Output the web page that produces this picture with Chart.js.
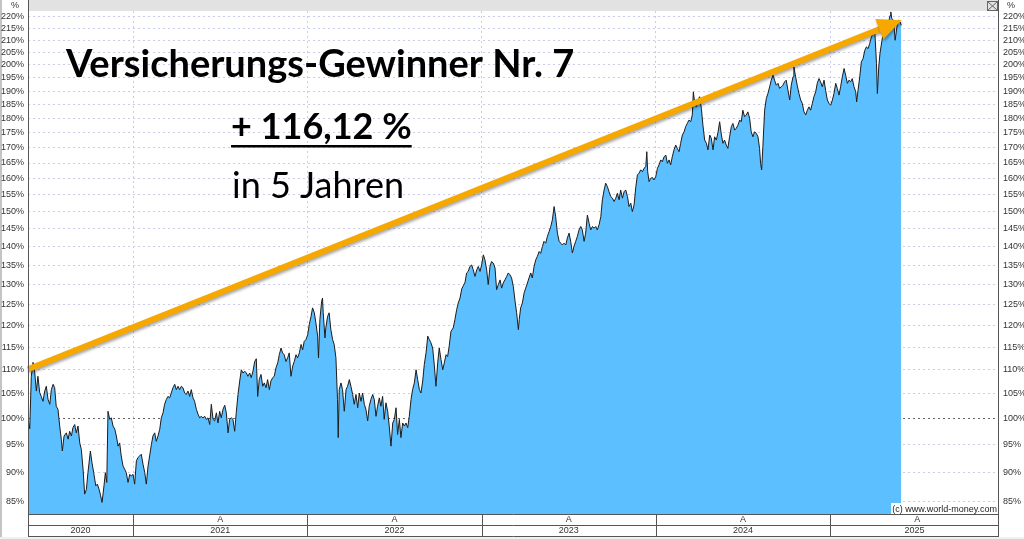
<!DOCTYPE html>
<html>
<head>
<meta charset="utf-8">
<title>Versicherungs-Gewinner Nr. 7</title>
<script src="https://cdn.jsdelivr.net/npm/chart.js@4.4.0/dist/chart.umd.min.js"></script>
<style>
  html, body { margin: 0; padding: 0; background: #fff; }
  #wrap { width: 1024px; height: 539px; }
</style>
</head>
<body>
<div id="wrap"><canvas id="perfChart" width="1024" height="539"></canvas></div>
<script>
// dates as decimal years, values in % of start value
const dates = [
  2020.397,2020.407,2020.416,2020.426,2020.435,2020.445,2020.454,2020.464,2020.473,2020.483,
  2020.493,2020.502,2020.512,2020.522,2020.531,2020.541,2020.550,2020.559,2020.569,2020.579,
  2020.588,2020.594,2020.604,2020.617,2020.627,2020.636,2020.646,2020.655,2020.665,2020.674,
  2020.684,2020.694,2020.703,2020.713,2020.722,2020.732,2020.741,2020.755,2020.764,2020.774,
  2020.786,2020.795,2020.805,2020.814,2020.822,2020.833,2020.841,2020.849,2020.856,2020.866,
  2020.875,2020.885,2020.895,2020.904,2020.914,2020.923,2020.932,2020.942,2020.952,2020.961,
  2020.971,2020.981,2020.990,2021.000,2021.009,2021.019,2021.028,2021.038,2021.047,2021.057,
  2021.067,2021.076,2021.086,2021.095,2021.105,2021.114,2021.124,2021.133,2021.143,2021.153,
  2021.162,2021.172,2021.181,2021.191,2021.200,2021.210,2021.219,2021.229,2021.239,2021.248,
  2021.258,2021.267,2021.277,2021.286,2021.296,2021.305,2021.315,2021.325,2021.334,2021.344,
  2021.353,2021.363,2021.373,2021.382,2021.391,2021.401,2021.411,2021.420,2021.430,2021.440,
  2021.449,2021.459,2021.468,2021.478,2021.487,2021.497,2021.506,2021.516,2021.526,2021.535,
  2021.545,2021.554,2021.564,2021.573,2021.583,2021.592,2021.602,2021.612,2021.621,2021.631,
  2021.640,2021.650,2021.659,2021.669,2021.678,2021.688,2021.698,2021.707,2021.715,2021.724,
  2021.734,2021.744,2021.753,2021.763,2021.772,2021.782,2021.791,2021.801,2021.810,2021.820,
  2021.830,2021.839,2021.849,2021.858,2021.867,2021.877,2021.887,2021.896,2021.906,2021.916,
  2021.925,2021.935,2021.944,2021.954,2021.964,2021.973,2021.982,2021.992,2022.002,2022.011,
  2022.021,2022.030,2022.040,2022.049,2022.059,2022.064,2022.072,2022.082,2022.087,2022.091,
  2022.101,2022.106,2022.116,2022.125,2022.135,2022.145,2022.154,2022.164,2022.173,2022.177,
  2022.183,2022.193,2022.202,2022.212,2022.222,2022.231,2022.241,2022.250,2022.260,2022.269,
  2022.279,2022.289,2022.298,2022.308,2022.317,2022.327,2022.336,2022.346,2022.355,2022.365,
  2022.375,2022.384,2022.394,2022.403,2022.413,2022.422,2022.432,2022.441,2022.451,2022.461,
  2022.470,2022.480,2022.490,2022.499,2022.509,2022.518,2022.528,2022.537,2022.547,2022.557,
  2022.566,2022.576,2022.585,2022.595,2022.604,2022.614,2022.624,2022.633,2022.643,2022.652,
  2022.662,2022.671,2022.681,2022.691,2022.700,2022.709,2022.719,2022.729,2022.738,2022.748,
  2022.757,2022.767,2022.777,2022.786,2022.796,2022.805,2022.814,2022.824,2022.837,2022.847,
  2022.857,2022.866,2022.876,2022.886,2022.895,2022.905,2022.914,2022.923,2022.933,2022.943,
  2022.952,2022.962,2022.972,2022.981,2022.991,2023.000,2023.010,2023.019,2023.029,2023.038,
  2023.048,2023.057,2023.067,2023.077,2023.086,2023.096,2023.106,2023.115,2023.124,2023.134,
  2023.144,2023.153,2023.163,2023.172,2023.182,2023.192,2023.201,2023.211,2023.216,2023.224,
  2023.234,2023.244,2023.253,2023.263,2023.272,2023.282,2023.291,2023.301,2023.311,2023.320,
  2023.330,2023.339,2023.349,2023.358,2023.368,2023.377,2023.387,2023.397,2023.406,2023.416,
  2023.425,2023.435,2023.445,2023.454,2023.463,2023.473,2023.483,2023.492,2023.502,2023.511,
  2023.521,2023.530,2023.540,2023.549,2023.559,2023.569,2023.578,2023.588,2023.597,2023.607,
  2023.617,2023.626,2023.636,2023.645,2023.655,2023.664,2023.674,2023.684,2023.693,2023.703,
  2023.712,2023.722,2023.731,2023.741,2023.751,2023.760,2023.770,2023.779,2023.789,2023.798,
  2023.808,2023.818,2023.827,2023.837,2023.846,2023.856,2023.865,2023.875,2023.885,2023.894,
  2023.903,2023.913,2023.923,2023.932,2023.942,2023.948,2023.953,2023.961,2023.970,2023.980,
  2023.989,2023.999,2024.009,2024.018,2024.028,2024.037,2024.047,2024.057,2024.066,2024.076,
  2024.085,2024.094,2024.104,2024.114,2024.123,2024.133,2024.142,2024.152,2024.162,2024.171,
  2024.180,2024.190,2024.200,2024.209,2024.215,2024.223,2024.232,2024.242,2024.251,2024.261,
  2024.270,2024.280,2024.290,2024.299,2024.309,2024.318,2024.328,2024.337,2024.347,2024.357,
  2024.366,2024.376,2024.385,2024.394,2024.404,2024.413,2024.423,2024.433,2024.442,2024.452,
  2024.461,2024.471,2024.481,2024.490,2024.499,2024.509,2024.519,2024.528,2024.538,2024.547,
  2024.557,2024.566,2024.576,2024.586,2024.595,2024.601,2024.607,2024.614,2024.624,2024.634,
  2024.643,2024.653,2024.662,2024.672,2024.681,2024.691,2024.701,2024.710,2024.720,2024.729,
  2024.739,2024.748,2024.758,2024.768,2024.777,2024.787,2024.792,2024.802,2024.811,2024.821,
  2024.831,2024.840,2024.850,2024.860,2024.869,2024.879,2024.888,2024.898,2024.907,2024.917,
  2024.926,2024.936,2024.945,2024.955,2024.965,2024.974,2024.984,2024.993,2025.003,2025.013,
  2025.022,2025.032,2025.041,2025.051,2025.060,2025.070,2025.080,2025.089,2025.099,2025.108,
  2025.118,2025.127,2025.137,2025.147,2025.152,2025.160,2025.170,2025.179,2025.189,2025.199,
  2025.208,2025.218,2025.227,2025.237,2025.246,2025.256,2025.266,2025.271,2025.279,2025.286,
  2025.296,2025.306,2025.315,2025.325,2025.334,2025.344,2025.348,2025.354,2025.364,2025.373,
  2025.383,2025.392,2025.402,2025.408
];
const values = [
  100.0,98.0,108.6,111.6,109.7,105.5,108.6,105.2,104.4,103.4,
  105.5,106.5,103.8,102.8,105.8,106.9,106.2,102.4,101.8,98.5,
  96.0,93.8,96.6,97.2,96.0,97.5,96.6,98.2,98.8,97.2,
  98.5,95.3,94.1,90.5,86.2,87.0,89.9,93.8,91.7,89.9,
  87.6,87.9,87.0,85.9,84.8,87.6,89.9,88.2,101.4,99.8,
  100.1,98.5,97.9,96.6,94.7,95.3,92.9,91.1,90.5,89.9,
  88.2,89.6,89.3,89.6,87.9,92.0,92.6,92.9,93.2,91.4,
  89.9,87.9,91.1,92.9,95.0,96.6,97.2,95.6,96.6,97.9,
  100.1,101.1,102.8,103.8,104.4,104.1,105.1,106.2,106.9,105.8,
  106.5,105.8,106.5,106.2,105.1,104.8,105.5,104.4,105.8,104.1,
  103.4,101.8,100.8,100.1,100.4,100.1,100.4,99.8,100.1,98.8,
  102.8,99.8,99.5,101.1,99.1,101.4,100.1,101.8,102.6,101.1,
  97.2,99.8,100.1,99.8,97.5,101.1,104.8,107.6,110.0,109.3,
  109.7,109.3,108.6,109.3,108.3,109.7,111.8,112.4,104.4,107.9,
  109.0,106.5,107.2,106.2,107.9,105.8,107.6,108.3,108.6,110.4,
  111.5,113.3,114.8,113.7,113.3,111.8,112.6,113.7,108.6,110.8,
  111.8,113.3,112.6,113.7,115.6,114.4,116.3,116.7,117.8,120.2,
  122.1,124.2,123.0,120.6,117.5,112.6,121.4,125.8,126.6,123.0,
  117.1,119.4,122.1,123.0,119.0,116.7,115.6,112.6,103.8,96.3,
  105.8,107.2,105.8,101.4,105.8,106.5,107.9,106.5,104.8,102.8,
  104.8,102.1,105.1,103.4,105.1,102.8,101.8,99.5,102.4,103.8,
  104.8,103.8,100.4,102.4,104.1,102.4,104.4,99.8,103.1,101.4,
  98.5,94.7,99.1,99.8,102.1,96.9,99.8,96.3,99.1,98.5,
  99.1,98.2,100.4,103.8,105.8,107.2,110.0,107.9,105.8,105.1,
  107.6,111.1,113.7,117.5,116.7,116.0,114.8,110.8,106.5,111.5,
  114.8,112.2,110.0,111.5,113.3,112.9,115.2,118.6,119.4,121.4,
  123.8,125.4,126.6,128.9,129.7,130.6,133.0,133.4,134.7,135.1,
  133.8,132.1,133.8,134.7,133.4,135.1,137.8,136.5,133.8,130.0,
  134.7,136.0,135.6,134.3,128.7,130.0,131.2,129.1,130.4,131.2,
  132.1,133.0,132.5,131.7,129.5,125.8,123.0,119.0,121.4,124.2,
  125.4,127.9,129.1,130.4,131.7,133.0,131.7,134.7,136.5,137.4,
  138.7,138.2,140.1,141.5,141.0,142.8,144.2,145.7,147.6,151.5,
  148.5,143.8,141.5,141.0,140.5,141.0,140.5,142.4,143.8,141.5,
  138.3,140.1,141.5,142.8,144.7,145.7,144.7,141.5,143.8,149.0,
  146.6,144.7,145.7,145.2,145.7,144.7,146.2,148.5,153.5,156.5,
  158.6,157.5,156.0,154.5,154.0,153.0,154.0,155.5,153.5,156.5,
  154.0,156.0,156.5,154.5,151.5,152.5,150.0,152.0,157.5,161.2,
  161.7,162.8,162.2,163.3,163.8,168.7,162.2,159.1,160.1,160.4,
  159.6,160.6,163.3,164.4,166.0,165.4,167.0,167.6,164.9,166.0,
  164.4,167.0,169.3,170.9,169.8,168.7,171.5,174.3,175.4,177.2,
  178.3,179.5,178.9,181.3,189.7,185.5,184.2,186.7,187.9,183.7,
  177.7,172.6,171.5,169.3,174.3,173.2,169.3,173.7,172.6,175.4,
  178.9,174.3,171.5,172.6,170.9,169.8,173.7,177.2,178.3,176.0,
  176.6,177.7,179.5,178.9,183.0,180.7,181.3,182.4,180.1,175.4,
  173.7,175.4,174.9,173.7,169.8,164.9,162.8,170.4,183.0,187.3,
  189.1,191.6,194.1,196.0,194.1,192.2,192.9,191.0,191.6,192.2,
  193.5,194.1,190.3,186.7,192.2,195.4,199.2,195.4,192.2,189.1,
  186.7,185.5,182.4,181.3,183.0,184.2,183.0,185.5,187.9,189.7,
  192.9,194.7,193.5,191.6,194.1,190.3,186.7,185.5,184.8,186.7,
  189.1,192.9,191.0,188.5,191.6,195.4,198.6,196.0,192.9,194.1,
  193.5,194.7,191.6,189.7,186.0,190.3,195.4,201.2,202.5,205.8,
  207.2,206.5,208.6,211.3,212.7,214.1,200.5,189.1,199.2,204.5,
  209.2,213.3,215.4,214.1,216.9,220.4,221.9,219.0,218.3,209.9,
  215.4,218.3,217.6,216.12
];

const yTicks = [85, 90, 95, 100, 105, 110, 115, 120, 125, 130, 135, 140, 145, 150, 155,
                160, 165, 170, 175, 180, 185, 190, 195, 200, 205, 210, 215, 220];
const yearStarts = [2020, 2021, 2022, 2023, 2024, 2025];
const yearLabels = ['2020', '2021', '2022', '2023', '2024', '2025'];
const monthMarks = [2021.5, 2022.5, 2023.5, 2024.5, 2025.5];
const xRange = [2020.397, 2025.969];
const yRange = [82.9, 222.3];
const arrowFrom = [2020.397, 110.1];
const arrowTo = [2025.41, 218.3];

const titleText = 'Versicherungs-Gewinner Nr. 7';
const gainText = '+ 116,12 %';
const periodText = 'in 5 Jahren';
const copyText = '(c) www.world-money.com';

const smallFont = '9px "Liberation Sans", Arial, sans-serif';
const gridColor = '#cbcbee';

// draws the frame, header, bottom year rows, arrow and the texts
const decorPlugin = {
    id: 'decor',
    beforeDraw(chart) {
        const ctx = chart.ctx;
        const area = chart.chartArea;
        ctx.save();
        ctx.fillStyle = '#ffffff';
        ctx.fillRect(0, 0, chart.width, chart.height);
        ctx.fillStyle = '#e2e2e2';
        ctx.fillRect(area.left, 0, area.right - area.left, area.top);
        ctx.fillStyle = '#c4c4c4';
        ctx.fillRect(0, 0, 2, chart.height);
        ctx.fillStyle = '#f0f0f0';
        ctx.fillRect(0, 537, chart.width, chart.height - 537);
        ctx.restore();
    },
    afterDatasetsDraw(chart) {
        const ctx = chart.ctx;
        const xs = chart.scales.x, ys = chart.scales.y;

        // orange arrow
        const x1 = xs.getPixelForValue(arrowFrom[0]), y1 = ys.getPixelForValue(arrowFrom[1]);
        const x2 = xs.getPixelForValue(arrowTo[0]), y2 = ys.getPixelForValue(arrowTo[1]);
        const ang = Math.atan2(y2 - y1, x2 - x1);
        const headLen = 24, headW = 11;
        const bx = x2 - headLen * Math.cos(ang), by = y2 - headLen * Math.sin(ang);
        ctx.save();
        ctx.shadowColor = 'rgba(0,0,0,0.35)';
        ctx.shadowOffsetX = 1;
        ctx.shadowOffsetY = 2;
        ctx.shadowBlur = 3;
        ctx.strokeStyle = '#f6a800';
        ctx.fillStyle = '#f6a800';
        ctx.lineWidth = 6;
        ctx.beginPath();
        ctx.moveTo(x1, y1);
        ctx.lineTo(bx + 2 * Math.cos(ang), by + 2 * Math.sin(ang));
        ctx.stroke();
        ctx.beginPath();
        ctx.moveTo(x2, y2);
        ctx.lineTo(bx - headW * Math.sin(ang), by + headW * Math.cos(ang));
        ctx.lineTo(bx + headW * Math.sin(ang), by - headW * Math.cos(ang));
        ctx.closePath();
        ctx.fill();
        ctx.restore();

        // texts
        ctx.save();
        ctx.fillStyle = '#000';
        ctx.textBaseline = 'alphabetic';
        ctx.textAlign = 'left';
        ctx.font = 'bold 38px Lato, "Open Sans", sans-serif';
        ctx.fillText(titleText, 66, 77);
        ctx.font = 'bold 36px Lato, "Open Sans", sans-serif';
        ctx.fillText(gainText, 231, 139);
        const w = ctx.measureText(gainText).width;
        ctx.fillRect(231, 145, w, 2.5);
        ctx.font = '36px Lato, "Open Sans", sans-serif';
        ctx.fillText(periodText, 232, 198);

        // copyright
        ctx.font = smallFont;
        const cw = ctx.measureText(copyText).width;
        ctx.fillStyle = '#fff';
        ctx.fillRect(chart.chartArea.right - cw - 3, 503, cw + 2, 11);
        ctx.fillStyle = '#222';
        ctx.textAlign = 'right';
        ctx.fillText(copyText, chart.chartArea.right - 2, 512);
        ctx.restore();
    },
    afterDraw(chart) {
        const ctx = chart.ctx;
        const area = chart.chartArea;
        const xs = chart.scales.x;
        const row1 = area.bottom + 0.5, row2 = area.bottom + 11.5, row3 = area.bottom + 22.5;
        ctx.save();
        ctx.strokeStyle = '#555';
        ctx.lineWidth = 1;
        ctx.beginPath();
        ctx.moveTo(area.left + 0.5, 0);
        ctx.lineTo(area.left + 0.5, row3);
        ctx.moveTo(area.right - 0.5, 0);
        ctx.lineTo(area.right - 0.5, row3);
        [row1, row2, row3].forEach(y => {
            ctx.moveTo(area.left, y);
            ctx.lineTo(area.right, y);
        });
        yearStarts.forEach(yr => {
            if (yr <= xRange[0]) return;
            const px = Math.round(xs.getPixelForValue(yr)) + 0.5;
            ctx.moveTo(px, row1);
            ctx.lineTo(px, row3);
        });
        ctx.stroke();

        ctx.font = smallFont;
        ctx.fillStyle = '#333';
        ctx.textAlign = 'center';
        ctx.textBaseline = 'middle';
        monthMarks.forEach(m => {
            ctx.fillText('A', xs.getPixelForValue(m), row1 + 5.5);
        });
        yearStarts.forEach((yr, i) => {
            const a = Math.max(area.left, xs.getPixelForValue(yr));
            const b = Math.min(area.right, xs.getPixelForValue(yr + 1));
            ctx.fillText(yearLabels[i], (a + b) / 2, row2 + 5.5);
        });

        // "%" unit labels and the little close box
        ctx.fillText('%', 15, 6);
        ctx.fillText('%', 1011, 6);
        ctx.strokeStyle = '#666';
        ctx.strokeRect(987.5, 1.5, 10, 9);
        ctx.beginPath();
        ctx.moveTo(987.5, 1.5); ctx.lineTo(997.5, 10.5);
        ctx.moveTo(997.5, 1.5); ctx.lineTo(987.5, 10.5);
        ctx.stroke();
        ctx.restore();
    }
};

const tickOpts = {
    autoSkip: false,
    padding: 4,
    color: '#333',
    font: { family: '"Liberation Sans", Arial, sans-serif', size: 9 },
    callback: v => v + '%'
};

new Chart(document.getElementById('perfChart'), {
    type: 'line',
    data: {
        datasets: [{
            data: dates.map((d, i) => ({ x: d, y: values[i] })),
            borderColor: '#1c1c1c',
            borderWidth: 1,
            backgroundColor: '#5cbfff',
            fill: 'start',
            pointRadius: 0,
            tension: 0
        }]
    },
    options: {
        responsive: false,
        animation: false,
        devicePixelRatio: 1,
        layout: { padding: { top: 11, left: 0, right: 0, bottom: 0 } },
        plugins: {
            legend: { display: false },
            tooltip: { enabled: false }
        },
        scales: {
            x: {
                type: 'linear',
                min: xRange[0],
                max: xRange[1],
                afterFit: s => { s.height = 25; },
                afterBuildTicks: s => { s.ticks = yearStarts.filter(v => v > xRange[0]).map(v => ({ value: v })); },
                ticks: { display: false },
                grid: { color: gridColor, drawTicks: false },
                border: { display: false, dash: [2, 3] }
            },
            y: {
                type: 'logarithmic',
                position: 'left',
                min: yRange[0],
                max: yRange[1],
                afterFit: s => { s.width = 28; },
                afterBuildTicks: s => { s.ticks = yTicks.map(v => ({ value: v })); },
                ticks: tickOpts,
                grid: {
                    drawTicks: false,
                    color: c => (c.tick && c.tick.value === 100) ? '#666' : gridColor
                },
                border: { display: false, dash: [2, 3] }
            },
            y2: {
                type: 'logarithmic',
                position: 'right',
                min: yRange[0],
                max: yRange[1],
                afterFit: s => { s.width = 25; },
                afterBuildTicks: s => { s.ticks = yTicks.map(v => ({ value: v })); },
                ticks: tickOpts,
                grid: { drawOnChartArea: false, drawTicks: false },
                border: { display: false }
            }
        }
    },
    plugins: [decorPlugin]
});
</script>
</body>
</html>
